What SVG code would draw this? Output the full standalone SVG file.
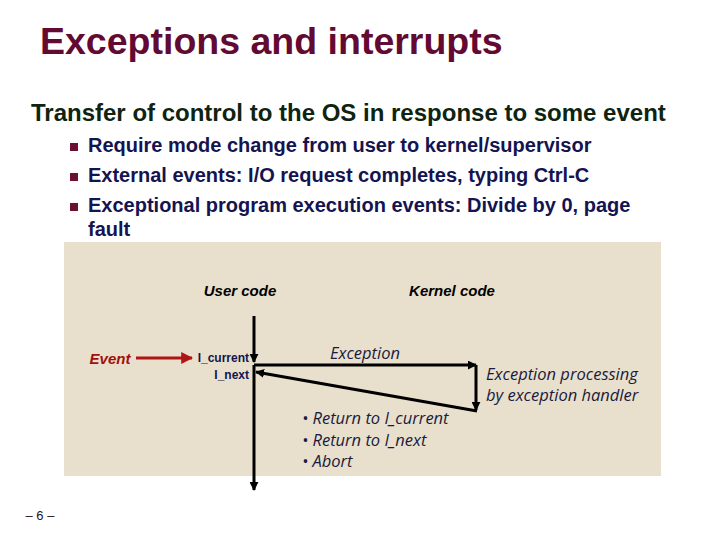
<svg xmlns="http://www.w3.org/2000/svg" width="720" height="540" viewBox="0 0 720 540">
<defs>
<style>
.title{font-family:"Liberation Sans",Arial,sans-serif;font-size:37.5px;font-weight:bold;fill:#630A33}
.sub{font-family:"Liberation Sans",Arial,sans-serif;font-size:24px;font-weight:bold;fill:#0E2410}
.bul{font-family:"Liberation Sans",Arial,sans-serif;font-size:20px;font-weight:bold;fill:#141450}
.hdr{font-family:"Liberation Sans",Arial,sans-serif;font-size:15px;font-weight:bold;font-style:italic;fill:#000}
.lbl{font-family:"Open Sans","DejaVu Sans",sans-serif;font-size:16.5px;font-style:italic;fill:#1a1a40}
.sm{font-family:"Liberation Sans",Arial,sans-serif;font-size:12px;font-weight:bold;fill:#141450}
.ln{stroke:#000;stroke-width:3;fill:none}
</style>
<marker id="ah" viewBox="0 0 10 10" refX="9" refY="5" markerWidth="3" markerHeight="3" orient="auto"><path d="M0,0 L10,5 L0,10 z" fill="#000"/></marker>
<marker id="ahr" viewBox="0 0 10 10" refX="9" refY="5" markerWidth="4" markerHeight="4" orient="auto"><path d="M0,0 L10,5 L0,10 z" fill="#B01515"/></marker>
</defs>
<rect width="720" height="540" fill="#fff"/>
<text class="title" x="40" y="54">Exceptions and interrupts</text>
<text class="sub" x="31" y="121">Transfer of control to the OS in response to some event</text>
<g fill="#6B1033">
<rect x="70" y="143" width="8" height="8"/>
<rect x="70" y="173" width="8" height="8"/>
<rect x="70" y="203" width="8" height="8"/>
</g>
<text class="bul" x="88" y="152">Require mode change from user to kernel/supervisor</text>
<text class="bul" x="88" y="182">External events: I/O request completes, typing Ctrl-C</text>
<text class="bul" x="88" y="212">Exceptional program execution events: Divide by 0, page</text>
<text class="bul" x="88" y="236">fault</text>
<rect id="panel" x="64" y="242" width="597" height="234" fill="#E8E0CC"/>
<g id="user-code"><text class="hdr" x="240" y="296" text-anchor="middle">User code</text></g>
<g id="kernel-code"><text class="hdr" x="452" y="296" text-anchor="middle">Kernel code</text></g>
<g id="event"><text class="hdr" x="110" y="364" text-anchor="middle" style="fill:#A01010">Event</text></g>
<g id="icurrent"><text class="sm" x="249" y="362" text-anchor="end">I_current</text></g>
<g id="inext"><text class="sm" x="249" y="379" text-anchor="end">I_next</text></g>
<g id="exception"><text class="lbl" x="365" y="359" text-anchor="middle">Exception</text></g>
<g id="handler">
<text class="lbl" x="486" y="380">Exception processing</text>
<text class="lbl" x="486" y="401">by exception handler</text>
</g>
<g id="returns">
<text class="lbl" x="302" y="424">• Return to I_current</text>
<text class="lbl" x="302" y="446">• Return to I_next</text>
<text class="lbl" x="302" y="467">• Abort</text>
</g>
<g id="connectors">
<line x1="136" y1="358" x2="192" y2="358" stroke="#B01515" stroke-width="3" marker-end="url(#ahr)"/>
<line class="ln" x1="254" y1="316" x2="254" y2="362" marker-end="url(#ah)"/>
<line class="ln" x1="254" y1="365" x2="254" y2="490" marker-end="url(#ah)"/>
<line class="ln" x1="254" y1="365" x2="476" y2="365" marker-end="url(#ah)"/>
<line class="ln" x1="476" y1="365" x2="476" y2="410" marker-end="url(#ah)"/>
<line class="ln" x1="477" y1="411" x2="256" y2="372" marker-end="url(#ah)"/>
</g>
<text x="40" y="520" text-anchor="middle" style="font-family:'Liberation Sans',Arial,sans-serif;font-size:13px;fill:#2a1020">– 6 –</text>
</svg>
